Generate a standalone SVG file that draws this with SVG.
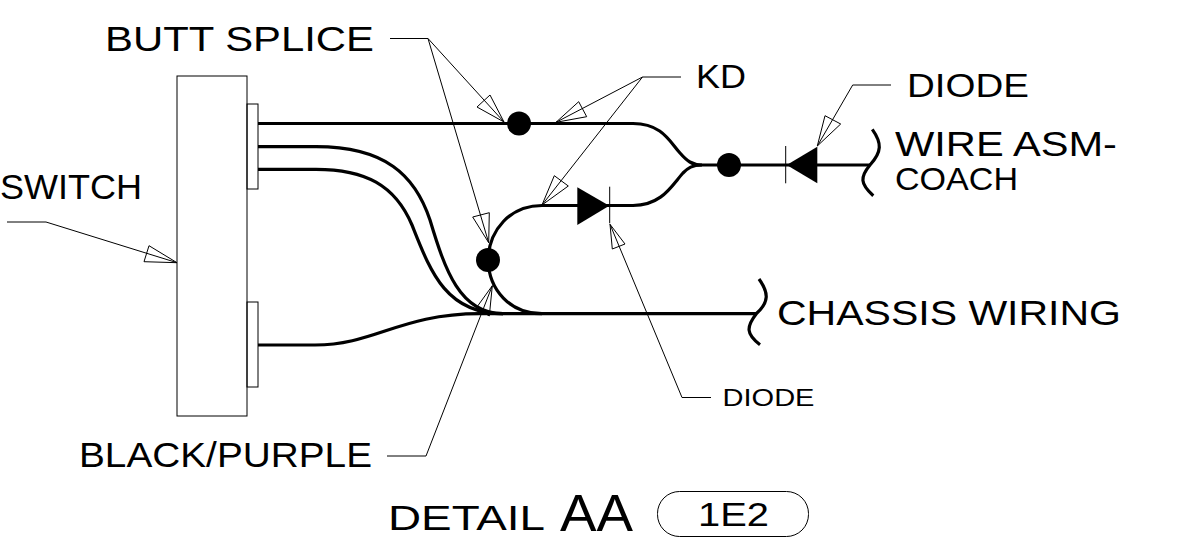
<svg xmlns="http://www.w3.org/2000/svg" width="1177" height="550" viewBox="0 0 1177 550">
<style>
.t{font-family:"Liberation Sans",Arial,sans-serif;fill:#000}
.w{fill:none;stroke:#000;stroke-width:3.200}
.l{fill:none;stroke:#000;stroke-width:1}
.a{fill:none;stroke:#000;stroke-width:1}
.o{fill:none;stroke:#000;stroke-width:1}
.k{fill:#000}
</style>
<rect width="1177" height="550" fill="#fff"/>
<g id="switch">
<rect class="o" x="177" y="76" width="70" height="340"/>
<rect class="o" x="247" y="104" width="11" height="85"/>
<rect class="o" x="247" y="302" width="11" height="85"/>
<text class="t" x="0" y="199" font-size="35" textLength="142" lengthAdjust="spacingAndGlyphs">SWITCH</text>
</g>
<g id="connectors">
<path class="w" d="M258 123.500H633C662 123.500 670 142 680 153C687 161 692 165 702 165H870"/>
<path class="w" d="M258 146.700H316C385 146.700 415 175 430 220C445 270 460 313.700 503 313.700"/>
<path class="w" d="M258 169.300H316C365 169.300 395 185 412 225C430 270 445 313.700 503 313.700"/>
<path class="w" d="M258 345H315C375 345 400 313.700 480 313.700H756"/>
<path class="w" d="M488 260C489 290 510 313.700 542 313.700"/>
<path class="w" d="M488 260C489 230 510 205.500 542 205.500H633C662 205.500 672 185 683 173C688 168 692 165 702 165"/>
<path class="w" d="M872.300 129.300C882 143 882 152 870 165C860 177 860 184 873.300 195.700"/>
<path class="w" d="M759 279C769 293 769 302 756.700 313.300C746 327 746 334 760 344.700"/>
<path class="l" d="M390 38.500H428L504 122M428 38.500L488.700 242.700"/>
<path class="l" d="M681 77H642.500L556 122.300M642.500 77L542 205"/>
<path class="l" d="M891 85H852.700L817.300 146"/>
<path class="l" d="M711 397.500H682L610 224.300"/>
<path class="l" d="M7 222H46L177 262.700"/>
<path class="l" d="M387 456H426L492.300 285.700"/>
<polygon class="a" points="504,122 477,107 490,95"/>
<polygon class="a" points="488.700,242.700 472.700,217 489.300,212.700"/>
<polygon class="a" points="556,122.300 578.700,101.700 586.700,116.700"/>
<polygon class="a" points="542,205 554.300,175.700 568.300,186"/>
<polygon class="a" points="817.300,146 825,115.700 840.700,124"/>
<polygon class="a" points="610,224.300 612.300,249 625,244"/>
<polygon class="a" points="177,262.700 149,245.700 144,261.700"/>
<polygon class="a" points="492.300,285.700 476,308.300 489.300,316"/>
</g>
<g id="splice-top"><circle class="k" cx="519" cy="123.500" r="12"/></g>
<g id="splice-left"><circle class="k" cx="488" cy="260" r="12"/></g>
<g id="splice-right"><circle class="k" cx="729" cy="165" r="12"/></g>
<g id="diode-lower">
<polygon class="k" points="577.300,187.300 577.300,225 609.300,205.700"/>
<path class="l" d="M609.700 186.700V223.300"/>
</g>
<g id="diode-upper">
<polygon class="k" points="817.300,146.700 817.300,183.300 786.700,165"/>
<path class="l" d="M785.700 146V183.300"/>
</g>
<g id="labels">
<text class="t" x="105" y="50.500" font-size="35" textLength="269" lengthAdjust="spacingAndGlyphs">BUTT SPLICE</text>
<text class="t" x="696" y="88" font-size="33" textLength="50" lengthAdjust="spacingAndGlyphs">KD</text>
<text class="t" x="907" y="97" font-size="33" textLength="122" lengthAdjust="spacingAndGlyphs">DIODE</text>
<text class="t" x="895" y="156" font-size="35" textLength="222" lengthAdjust="spacingAndGlyphs">WIRE ASM-</text>
<text class="t" x="895" y="190" font-size="31" textLength="123" lengthAdjust="spacingAndGlyphs">COACH</text>
<text class="t" x="777" y="325" font-size="35" textLength="344" lengthAdjust="spacingAndGlyphs">CHASSIS WIRING</text>
<text class="t" x="722.500" y="405.500" font-size="24" textLength="92" lengthAdjust="spacingAndGlyphs">DIODE</text>
<text class="t" x="79" y="467" font-size="35" textLength="293" lengthAdjust="spacingAndGlyphs">BLACK/PURPLE</text>
<text class="t" x="388" y="530" font-size="35" textLength="157" lengthAdjust="spacingAndGlyphs">DETAIL</text>
<text class="t" x="560" y="531" font-size="52" textLength="73" lengthAdjust="spacingAndGlyphs">AA</text>
</g>
<g id="ref-1E2">
<rect class="o" x="657.500" y="491.500" width="151" height="45" rx="22" ry="22"/>
<text class="t" x="698" y="526" font-size="33" textLength="71" lengthAdjust="spacingAndGlyphs">1E2</text>
</g>
</svg>
